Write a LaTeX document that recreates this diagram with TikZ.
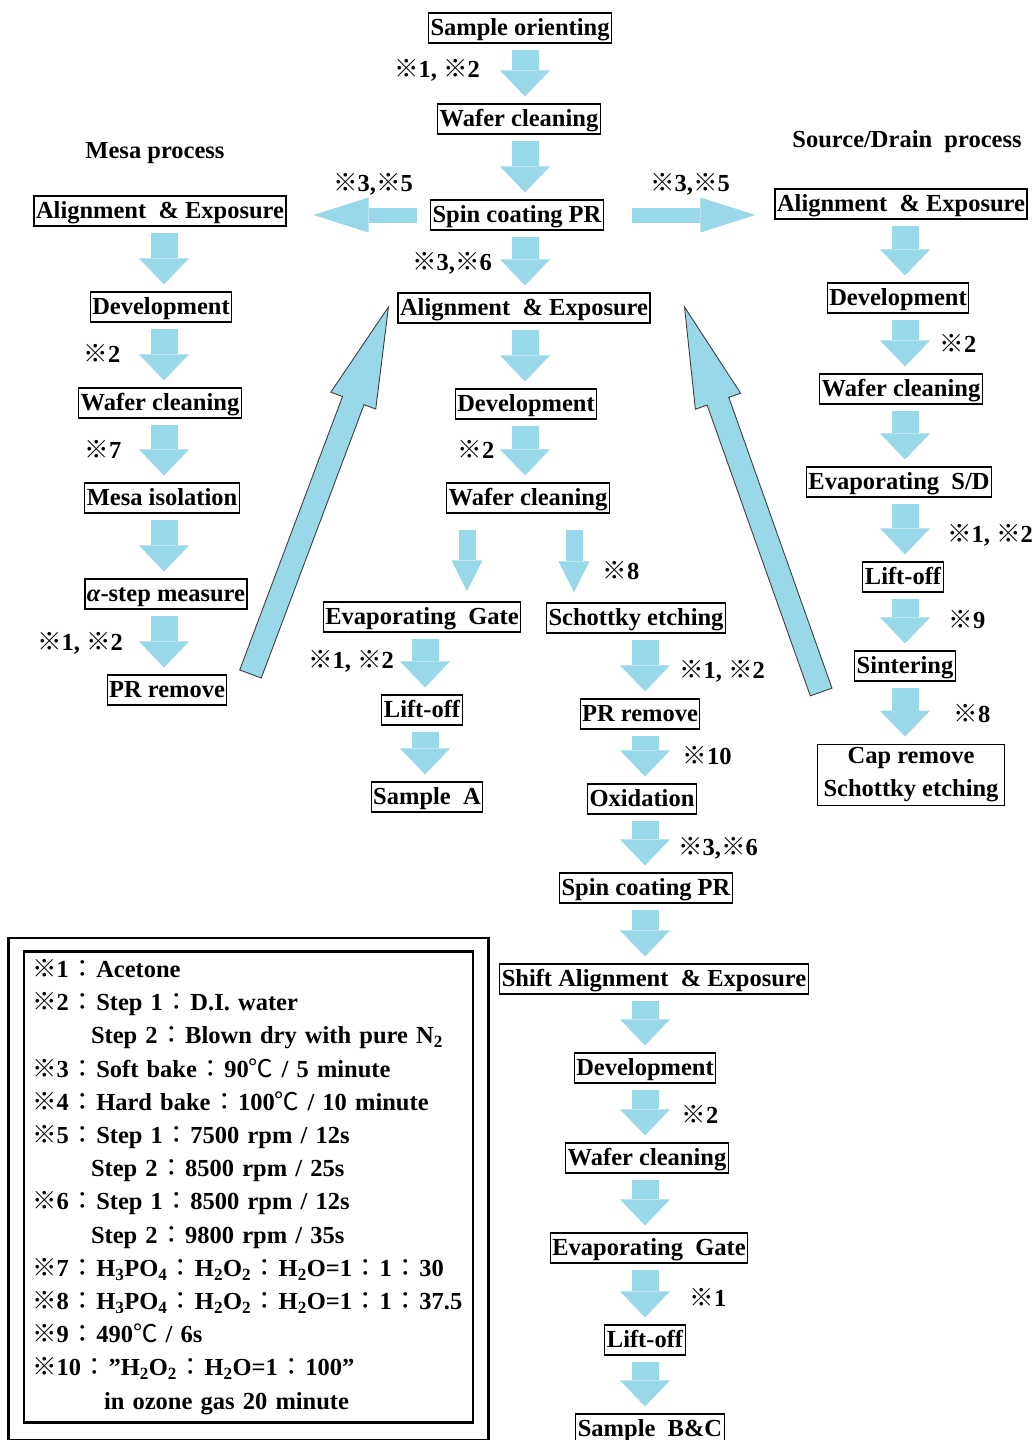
\documentclass[tikz,border=0pt]{standalone}
\usepackage{fontspec}
\setmainfont{Liberation Serif}
\newfontfamily\cjk{Noto Sans CJK JP}
\usepackage{tikz}
\usetikzlibrary{arrows.meta, calc, positioning}

\definecolor{flowblue}{RGB}{153,216,233}
\newcommand{\refmark}{{\cjk\mdseries ※}}
\newcommand{\fcol}{\hspace{1.5pt}{\cjk\mdseries ：}\hspace{1.5pt}}
\newcommand{\degC}{{\cjk\mdseries ℃}}
\newcommand{\fatarrow}[2]{%
  \coordinate (fa-b) at ($(#2)!100pt!(#1)$);
  \draw[fat] ($(#1)!11.5pt!90:(#2)$) -- ($(fa-b)!11.5pt!-90:(#1)$) -- ($(fa-b)!24pt!-90:(#1)$)
    -- (#2) -- ($(fa-b)!24pt!90:(#1)$) -- ($(fa-b)!11.5pt!90:(#1)$) -- ($(#1)!11.5pt!-90:(#2)$) -- cycle;}

\begin{document}
\begin{tikzpicture}[
    x=1pt, y=-1pt,
    every node/.style={font=\fontsize{24.5}{33}\selectfont\bfseries},
    box/.style={draw, line width=1.1pt, inner xsep=2pt, inner ysep=2.5pt, text height=20pt, text depth=5pt},
    box2/.style={draw, line width=1.1pt, align=center, inner xsep=6pt, inner ysep=3.5pt},
    flow/.style={draw=flowblue, line width=27pt, -{Triangle[width=50pt, length=26pt, line width=0pt]}, shorten <=6pt, shorten >=7pt},
    flowthin/.style={draw=flowblue, line width=17pt, -{Triangle[width=31pt, length=31pt, line width=0pt]}, shorten <=16pt, shorten >=10pt},
    flowside/.style={draw=flowblue, line width=15pt, -{Triangle[width=35pt, length=55pt, line width=0pt]}},
    fat/.style={fill=flowblue, draw=black!75, line width=0.9pt, line join=miter},
    legend/.style={draw, line width=2.6pt, text width=433pt, minimum height=470pt, align=left, inner sep=8pt,
        font=\fontsize{24.5}{33.2}\selectfont\bfseries}
]
    \fill[white] (0,0) rectangle (1035,1440);
    \useasboundingbox (0,0) rectangle (1035,1440);

    \coordinate (cL) at (164,0);
    \coordinate (cC) at (525,0);
    \coordinate (cG) at (425,0);
    \coordinate (cS) at (645,0);
    \coordinate (cR) at (905,0);

    \node[box] (so) at (520,28) {Sample orienting};
    \node[box] (wc0) at (519,119) {Wafer cleaning};
    \node[box] (sp) at (517,215) {Spin coating PR};
    \node[box] (ae) at (524,308) {Alignment\ \ \& Exposure};
    \node[box] (dv) at (526,404) {Development};
    \node[box] (wc) at (528,498) {Wafer cleaning};
    \node[box] (eg) at (422,617) {Evaporating\ \ Gate};
    \node[box] (se) at (636,618) {Schottky etching};
    \node[box] (lo) at (422,710) {Lift-off};
    \node[box] (sa) at (427,797) {Sample\ \ A};
    \node[box] (pr) at (640,714) {PR remove};
    \node[box] (ox) at (642,799) {Oxidation};
    \node[box] (sp2) at (646,888) {Spin coating PR};
    \node[box] (shae) at (654,979) {Shift Alignment\ \ \& Exposure};
    \node[box] (dv2) at (645,1068) {Development};
    \node[box] (wc2) at (647,1158) {Wafer cleaning};
    \node[box] (eg2) at (649,1248) {Evaporating\ \ Gate};
    \node[box] (lo2) at (645,1340) {Lift-off};
    \node[box] (sbc) at (650,1429) {Sample\ \ B\&C};

    \node (mt) at (155,153) {Mesa process};
    \node[box] (mae) at (160,211) {Alignment\ \ \& Exposure};
    \node[box] (mdv) at (161,307) {Development};
    \node[box] (mwc) at (160,403) {Wafer cleaning};
    \node[box] (mmi) at (162,498) {Mesa isolation};
    \node[box] (mas) at (166,594) {{\itshape α}-step measure};
    \node[box] (mpr) at (167,690) {PR remove};

    \node (dt) at (907,142) {Source/Drain\ \ process};
    \node[box] (dae) at (901,204) {Alignment\ \ \& Exposure};
    \node[box] (ddv) at (898,298) {Development};
    \node[box] (dwc) at (901,389) {Wafer cleaning};
    \node[box] (dsd) at (899,482) {Evaporating\ \ S/D};
    \node[box] (dlo) at (903,577) {Lift-off};
    \node[box] (dsi) at (905,666) {Sintering};
    \node[box2] (dcr) at (911,775) {Cap remove\\Schottky etching};

    \draw[flow] (so.south -| cC) -- (wc0.north -| cC);
    \draw[flow] (wc0.south -| cC) -- (sp.north -| cC);
    \draw[flow] (sp.south -| cC) -- (ae.north -| cC);
    \draw[flow] (ae.south -| cC) -- (dv.north -| cC);
    \draw[flow] (dv.south -| cC) -- (wc.north -| cC);
    \coordinate (wl) at ([xshift=-61pt]wc.south);
    \coordinate (wr) at ([xshift=46pt]wc.south);
    \draw[flowthin] (wl) -- (wl |- eg.north);
    \draw[flowthin] (wr) -- (wr |- se.north);
    \draw[flow] (eg.south -| cG) -- (lo.north -| cG);
    \draw[flow] (lo.south -| cG) -- (sa.north -| cG);
    \draw[flow] (se.south -| cS) -- (pr.north -| cS);
    \draw[flow] (pr.south -| cS) -- (ox.north -| cS);
    \draw[flow] (ox.south -| cS) -- (sp2.north -| cS);
    \draw[flow] (sp2.south -| cS) -- (shae.north -| cS);
    \draw[flow] (shae.south -| cS) -- (dv2.north -| cS);
    \draw[flow] (dv2.south -| cS) -- (wc2.north -| cS);
    \draw[flow] (wc2.south -| cS) -- (eg2.north -| cS);
    \draw[flow] (eg2.south -| cS) -- (lo2.north -| cS);
    \draw[flow] (lo2.south -| cS) -- (sbc.north -| cS);

    \draw[flow] (mae.south -| cL) -- (mdv.north -| cL);
    \draw[flow] (mdv.south -| cL) -- (mwc.north -| cL);
    \draw[flow] (mwc.south -| cL) -- (mmi.north -| cL);
    \draw[flow] (mmi.south -| cL) -- (mas.north -| cL);
    \draw[flow] (mas.south -| cL) -- (mpr.north -| cL);

    \draw[flow] (dae.south -| cR) -- (ddv.north -| cR);
    \draw[flow] (ddv.south -| cR) -- (dwc.north -| cR);
    \draw[flow] (dwc.south -| cR) -- (dsd.north -| cR);
    \draw[flow] (dsd.south -| cR) -- (dlo.north -| cR);
    \draw[flow] (dlo.south -| cR) -- (dsi.north -| cR);
    \draw[flow] (dsi.south -| cR) -- (dcr.north -| cR);

    \draw[flowside, shorten <=13pt, shorten >=27pt] (sp.west) -- (sp.west -| mae.east);
    \draw[flowside, shorten <=28pt, shorten >=19pt] (sp.east) -- (sp.east -| dae.west);

    \coordinate (mback) at ([shift={(23,-16)}]mpr.east);
    \coordinate (mtip) at ([shift={(-9,-1)}]ae.west);
    \coordinate (dback) at ([shift={(-33,26)}]dsi.west);
    \coordinate (dtip) at ([shift={(34,-1)}]ae.east);
    \fatarrow{mback}{mtip}
    \fatarrow{dback}{dtip}

    \node (n12a) at (437,70) {\refmark1, \refmark2};
    \node (n35a) at (373,184) {\refmark3,\refmark5};
    \node (n35b) at (690,184) {\refmark3,\refmark5};
    \node (n36a) at (452,263) {\refmark3,\refmark6};
    \node (n2a) at (102,353) {\refmark2};
    \node (n7) at (103,449) {\refmark7};
    \node (n12b) at (80,643) {\refmark1, \refmark2};
    \node (n2b) at (476,449) {\refmark2};
    \node (n8a) at (621,571) {\refmark8};
    \node (n12c) at (351,661) {\refmark1, \refmark2};
    \node (n12d) at (722,671) {\refmark1, \refmark2};
    \node (n10) at (707,756) {\refmark10};
    \node (n36b) at (718,848) {\refmark3,\refmark6};
    \node (n2c) at (700,1114) {\refmark2};
    \node (n1) at (708,1297) {\refmark1};
    \node (n2d) at (958,343) {\refmark2};
    \node (n12e) at (990,535) {\refmark1, \refmark2};
    \node (n9) at (967,620) {\refmark9};
    \node (n8b) at (972,714) {\refmark8};

    \node[legend] (lg) at (248.5,1187) {%
        \refmark1\fcol Acetone\\
        \refmark2\fcol Step 1\fcol D.I. water\\
        \hspace*{59pt}Step 2\fcol Blown dry with pure N\textsubscript{2}\\
        \refmark3\fcol Soft bake\fcol 90\degC\ / 5 minute\\
        \refmark4\fcol Hard bake\fcol 100\degC\ / 10 minute\\
        \refmark5\fcol Step 1\fcol 7500 rpm\ / 12s\\
        \hspace*{59pt}Step 2\fcol 8500 rpm\ / 25s\\
        \refmark6\fcol Step 1\fcol 8500 rpm\ / 12s\\
        \hspace*{59pt}Step 2\fcol 9800 rpm\ / 35s\\
        \refmark7\fcol H\textsubscript{3}PO\textsubscript{4}\fcol H\textsubscript{2}O\textsubscript{2}\fcol H\textsubscript{2}O=1\fcol 1\fcol 30\\
        \refmark8\fcol H\textsubscript{3}PO\textsubscript{4}\fcol H\textsubscript{2}O\textsubscript{2}\fcol H\textsubscript{2}O=1\fcol 1\fcol 37.5\\
        \refmark9\fcol 490\degC\ / 6s\\
        \refmark10\fcol ”H\textsubscript{2}O\textsubscript{2}\fcol H\textsubscript{2}O=1\fcol 100”\\
        \hspace*{72pt}in ozone gas 20 minute};
    \draw[line width=2.6pt] ([shift={(-14,-12)}]lg.north west) rectangle ([shift={(14,16)}]lg.south east);
\end{tikzpicture}
\end{document}
